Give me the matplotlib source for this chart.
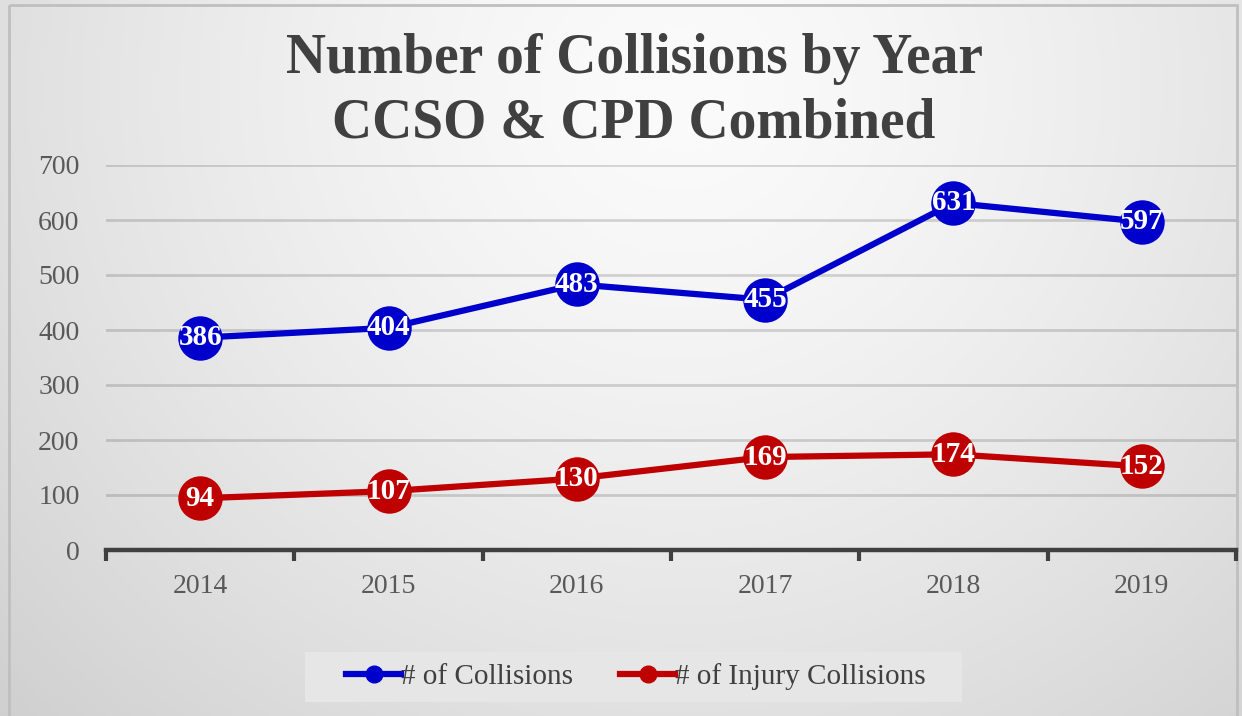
import numpy as np
import matplotlib
matplotlib.use("Agg")
import matplotlib.pyplot as plt
from matplotlib.patches import Rectangle
from matplotlib.lines import Line2D

years = ["2014", "2015", "2016", "2017", "2018", "2019"]
collisions = [386, 404, 483, 455, 631, 597]
injury = [94, 107, 130, 169, 174, 152]
series_names = ["# of Collisions", "# of Injury Collisions"]
title_lines = ["Number of Collisions by Year", "CCSO & CPD Combined"]
yticks = [0, 100, 200, 300, 400, 500, 600, 700]

BLUE = "#0000CC"
RED = "#BF0000"
SERIF = ["Liberation Serif", "DejaVu Serif"]

W, H = 1242, 716
fig = plt.figure(figsize=(W / 100, H / 100), dpi=100)

# background radial gradient
bg = fig.add_axes([0, 0, 1, 1])
yy, xx = np.mgrid[0:H, 0:W]
r = np.hypot(xx - 680, (yy - 90) * 1.05)
val = 251 - 44 * (r / 950) ** 1.4
val = np.clip(val, 200, 255) / 255.0
bg.imshow(np.dstack([val, val, val]), extent=[0, W, H, 0], aspect="auto", zorder=0)
bg.set_xlim(0, W)
bg.set_ylim(H, 0)
bg.axis("off")
bg.add_patch(Rectangle((9, 5), 1228, 720, fill=False, edgecolor="#bfbfbf", lw=2))
# legend background panel
bg.add_patch(Rectangle((305, 652), 657, 50, facecolor="#e6e6e6", edgecolor="none", zorder=1))

ax = fig.add_axes([106 / W, 1 - 550 / H, 1130 / W, 385 / H])
ax.patch.set_alpha(0)
x = np.arange(len(years))
ax.set_xlim(-0.5, len(years) - 0.5)
ax.set_ylim(0, 700)
ax.set_yticks(yticks)
ax.set_yticklabels([str(v) for v in yticks], fontfamily=SERIF, fontsize=20, color="#595959")
ax.tick_params(axis="y", length=0, pad=19)
ax.set_xticks(x)
ax.set_xticklabels(years, fontfamily=SERIF, fontsize=20, color="#595959")
ax.tick_params(axis="x", which="major", length=0, pad=17)
ax.set_xticks(np.arange(-0.5, len(years)), minor=True)
ax.tick_params(axis="x", which="minor", length=8, width=3, color="#404040", direction="out")
ax.grid(axis="y", color="black", alpha=0.15, lw=2)
ax.set_axisbelow(True)
for s in ["top", "right", "left"]:
    ax.spines[s].set_visible(False)
ax.spines["bottom"].set_color("#404040")
ax.spines["bottom"].set_linewidth(3.2)
ax.spines["bottom"].set_zorder(5)

for vals, col in [(collisions, BLUE), (injury, RED)]:
    ax.plot(x, vals, color=col, lw=4.5, marker="o", markersize=32, markeredgewidth=0,
            solid_capstyle="round", zorder=3, clip_on=False)
    for xi, v in zip(x, vals):
        ax.text(xi, v, str(v), ha="center", va="center", color="white", fontweight="bold",
                fontfamily=SERIF, fontsize=21, zorder=4)

# title
for i, t in enumerate(title_lines):
    fig.text(634 / W, 1 - (59 + 65 * i) / H, t, ha="center", va="center", fontsize=40,
             fontweight="bold", fontfamily=SERIF, color="#404040")

# legend
handles = [Line2D([], [], color=BLUE, lw=4.5, marker="o", markersize=12),
           Line2D([], [], color=RED, lw=4.5, marker="o", markersize=12)]
leg = fig.legend(handles, series_names, loc="center", bbox_to_anchor=(636 / W, 1 - 677 / H),
                 ncol=2, frameon=False, prop={"family": SERIF, "size": 21}, handlelength=1.9,
                 handletextpad=0.0, columnspacing=1.6, borderpad=0.45, borderaxespad=0,
                 labelcolor="#404040")

fig.savefig("out.png", dpi=100)
